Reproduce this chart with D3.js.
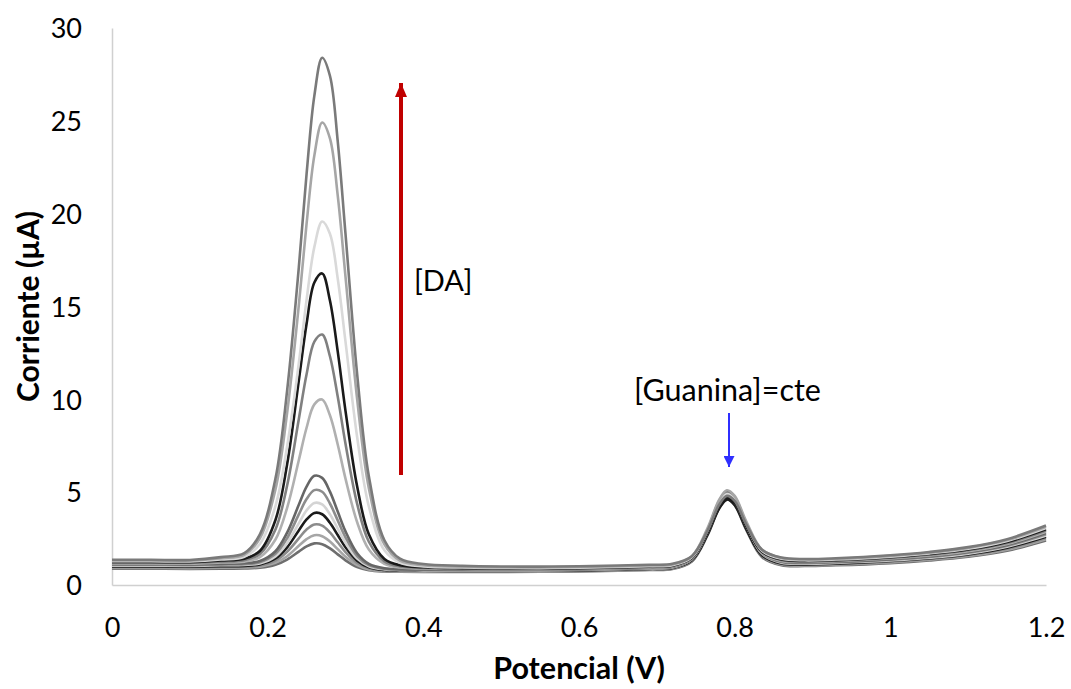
<!DOCTYPE html>
<html>
<head>
<meta charset="utf-8">
<script src="https://cdn.jsdelivr.net/npm/d3@7/dist/d3.min.js"></script>
<style>
  html, body { margin: 0; padding: 0; background: #ffffff; }
  svg { display: block; }
  text { font-family: Lato, "Open Sans", sans-serif; fill: #000; }
</style>
</head>
<body>
<svg id="chart" width="1071" height="689"></svg>
<script>
// ---------------- data ----------------
const potential = [0, 0.05, 0.10, 0.14, 0.17, 0.19, 0.21, 0.225, 0.24, 0.25, 0.26, 0.27, 0.28, 0.29, 0.30, 0.315, 0.33, 0.35, 0.37, 0.40,
                   0.45, 0.50, 0.55, 0.60, 0.65, 0.69, 0.72, 0.745, 0.765, 0.78, 0.79, 0.80, 0.815, 0.835, 0.86, 0.89, 0.93, 1.00, 1.05, 1.10, 1.15, 1.20];

const current1  = [0.88,0.88,0.87,0.88,0.89,0.93,1.09,1.37,1.80,2.08,2.24,2.20,1.97,1.65,1.33,0.97,0.80,0.73,0.71,0.70, 0.70,0.70,0.71,0.73,0.77,0.81,0.86,1.27,2.67,4.12,4.60,4.30,2.96,1.51,1.06,1.02,1.06,1.18,1.32,1.52,1.85,2.40];
const current2  = [0.92,0.92,0.91,0.93,0.94,0.99,1.19,1.55,2.11,2.47,2.68,2.63,2.34,1.93,1.52,1.07,0.84,0.75,0.73,0.72, 0.72,0.72,0.73,0.75,0.79,0.83,0.89,1.32,2.81,4.34,4.85,4.53,3.12,1.58,1.10,1.05,1.09,1.22,1.36,1.56,1.90,2.47];
const current3  = [0.96,0.96,0.95,0.97,0.98,1.05,1.31,1.79,2.51,2.99,3.26,3.20,2.83,2.30,1.77,1.19,0.90,0.78,0.76,0.75, 0.74,0.74,0.75,0.77,0.81,0.85,0.90,1.32,2.74,4.21,4.70,4.40,3.05,1.59,1.13,1.08,1.12,1.25,1.40,1.61,1.95,2.53];
const current4  = [1.00,1.00,0.99,1.01,1.03,1.11,1.43,2.03,2.94,3.53,3.88,3.81,3.35,2.69,2.03,1.31,0.96,0.81,0.78,0.77, 0.76,0.76,0.77,0.79,0.83,0.87,0.92,1.33,2.71,4.12,4.60,4.31,3.01,1.60,1.16,1.11,1.15,1.29,1.44,1.65,2.01,2.60];
const current5  = [1.04,1.04,1.03,1.06,1.08,1.16,1.54,2.25,3.32,4.02,4.42,4.34,3.81,3.04,2.27,1.42,1.01,0.84,0.80,0.79, 0.78,0.78,0.79,0.81,0.85,0.89,0.95,1.39,2.91,4.48,5.00,4.68,3.25,1.69,1.20,1.15,1.19,1.32,1.47,1.69,2.06,2.67];
const current6  = [1.08,1.08,1.07,1.10,1.12,1.23,1.68,2.52,3.80,4.63,5.11,5.02,4.39,3.48,2.57,1.56,1.07,0.87,0.83,0.82, 0.80,0.80,0.81,0.83,0.87,0.91,0.96,1.40,2.87,4.39,4.90,4.59,3.21,1.70,1.24,1.18,1.22,1.36,1.51,1.74,2.11,2.73];
const current7  = [1.12,1.12,1.11,1.15,1.17,1.29,1.82,2.82,4.32,5.30,5.88,5.77,5.03,3.96,2.89,1.71,1.14,0.90,0.85,0.84, 0.82,0.82,0.83,0.85,0.89,0.93,0.99,1.43,2.96,4.52,5.05,4.73,3.31,1.75,1.27,1.21,1.25,1.39,1.55,1.78,2.16,2.80];
const current8  = [1.16,1.16,1.15,1.21,1.26,1.50,2.45,4.16,6.72,8.47,9.73,9.99,9.14,7.57,5.73,3.38,1.91,1.14,0.94,0.89, 0.86,0.85,0.85,0.87,0.91,0.95,1.00,1.42,2.82,4.26,4.75,4.46,3.16,1.74,1.30,1.24,1.28,1.43,1.59,1.82,2.21,2.87];
const current9  = [1.20,1.20,1.19,1.26,1.34,1.67,2.99,5.36,8.93,11.35,13.11,13.49,12.32,10.15,7.61,4.37,2.33,1.27,1.00,0.92, 0.88,0.87,0.87,0.89,0.93,0.97,1.02,1.46,2.93,4.44,4.95,4.65,3.29,1.80,1.34,1.27,1.31,1.46,1.63,1.87,2.26,2.93];
const current10 = [1.24,1.24,1.23,1.32,1.42,1.83,3.50,6.50,11.01,14.07,16.29,16.78,15.32,12.58,9.38,5.30,2.73,1.40,1.06,0.96, 0.91,0.89,0.89,0.91,0.95,0.99,1.04,1.45,2.82,4.22,4.70,4.43,3.17,1.79,1.37,1.30,1.34,1.50,1.67,1.91,2.32,3.00];
const current11 = [1.28,1.28,1.27,1.37,1.52,2.21,4.25,7.46,11.94,15.36,18.21,19.58,18.92,16.51,13.11,7.96,4.23,1.87,1.20,1.00, 0.94,0.92,0.91,0.93,0.97,1.01,1.06,1.49,2.93,4.40,4.90,4.61,3.29,1.85,1.41,1.33,1.37,1.53,1.70,1.95,2.37,3.07];
const current12 = [1.32,1.32,1.31,1.44,1.63,2.51,5.14,9.27,15.06,19.46,23.14,24.91,24.06,20.98,16.61,10.00,5.21,2.19,1.32,1.07, 0.99,0.96,0.95,0.97,1.01,1.05,1.10,1.55,3.05,4.58,5.10,4.80,3.42,1.91,1.45,1.37,1.41,1.57,1.74,2.00,2.42,3.13];
const current13 = [1.36,1.36,1.35,1.50,1.72,2.73,5.73,10.47,17.10,22.14,26.36,28.40,27.43,23.91,18.91,11.35,5.86,2.41,1.42,1.13, 1.04,1.00,0.99,1.01,1.05,1.09,1.14,1.55,2.92,4.32,4.80,4.53,3.27,1.90,1.48,1.40,1.44,1.60,1.78,2.04,2.47,3.20];

const currents = [current1, current2, current3, current4, current5, current6, current7,
                  current8, current9, current10, current11, current12, current13];

const lineColors = ["#6e6e6e", "#a6a6a6", "#8c8c8c", "#1a1a1a", "#d4d4d4", "#8c8c8c", "#666666",
                    "#b0b0b0", "#808080", "#1a1a1a", "#d9d9d9", "#a6a6a6", "#7a7a7a"];

const xTicks = [0, 0.2, 0.4, 0.6, 0.8, 1, 1.2];
const yTicks = [0, 5, 10, 15, 20, 25, 30];

// ---------------- layout ----------------
const svg = d3.select("#chart");
const plotLeft = 112, plotRight = 1046, plotTop = 28, plotBottom = 585;

const x = d3.scaleLinear().domain([0, 1.2]).range([plotLeft, plotRight]);
const y = d3.scaleLinear().domain([0, 30]).range([plotBottom, plotTop]);

// axes (lines only, no tick marks)
const xAxis = d3.axisBottom(x).tickValues(xTicks).tickSize(0).tickPadding(0).tickFormat(d3.format("~g"));
const yAxis = d3.axisLeft(y).tickValues(yTicks).tickSize(0).tickPadding(0);

const gx = svg.append("g").attr("transform", `translate(0,${plotBottom})`).call(xAxis);
gx.select(".domain").attr("stroke", "#d0d0d0").attr("stroke-width", 1.5);
gx.selectAll(".tick text")
  .attr("font-family", "Lato, sans-serif").attr("font-size", 27).attr("fill", "#000")
  .attr("dy", null).attr("y", 52);

const gy = svg.append("g").attr("transform", `translate(${plotLeft},0)`).call(yAxis);
gy.select(".domain").attr("stroke", "#d0d0d0").attr("stroke-width", 1.5);
gy.selectAll(".tick text")
  .attr("font-family", "Lato, sans-serif").attr("font-size", 27).attr("fill", "#000")
  .attr("x", -30).attr("dy", "0.36em");

// curves
const line = d3.line()
  .x((d, i) => x(potential[i]))
  .y(d => y(d))
  .curve(d3.curveCatmullRom.alpha(0.5));

svg.append("g").selectAll("path")
  .data(currents)
  .join("path")
  .attr("d", d => line(d))
  .attr("fill", "none")
  .attr("stroke", (d, i) => lineColors[i])
  .attr("stroke-width", 2.6)
  .attr("stroke-linejoin", "round");

// axis titles
svg.append("text")
  .attr("x", (plotLeft + plotRight) / 2).attr("y", 668).attr("dy", "0.35em")
  .attr("text-anchor", "middle")
  .attr("font-size", 30.5).attr("font-weight", "bold")
  .text("Potencial (V)");

svg.append("text")
  .attr("transform", `translate(28,${(plotTop + plotBottom) / 2}) rotate(-90)`)
  .attr("dy", "0.35em")
  .attr("text-anchor", "middle")
  .attr("font-size", 30).attr("font-weight", "bold")
  .text("Corriente (µA)");

// annotations
const defs = svg.append("defs");
defs.append("marker").attr("id", "headRed")
  .attr("viewBox", "0 0 12 14").attr("refX", 6).attr("refY", 0)
  .attr("markerWidth", 12).attr("markerHeight", 14).attr("markerUnits", "userSpaceOnUse")
  .attr("orient", "0")
  .append("path").attr("d", "M0,14 L6,0 L12,14 Z").attr("fill", "#c00000");

defs.append("marker").attr("id", "headBlue")
  .attr("viewBox", "0 0 11 11").attr("refX", 5.5).attr("refY", 11)
  .attr("markerWidth", 11).attr("markerHeight", 11).attr("markerUnits", "userSpaceOnUse")
  .attr("orient", "0")
  .append("path").attr("d", "M0,0 L11,0 L5.5,11 Z").attr("fill", "#2f2fff");

svg.append("line")
  .attr("x1", 401).attr("y1", 475).attr("x2", 401).attr("y2", 83)
  .attr("stroke", "#c00000").attr("stroke-width", 4)
  .attr("marker-end", "url(#headRed)");

svg.append("line")
  .attr("x1", 729).attr("y1", 413).attr("x2", 729).attr("y2", 467)
  .attr("stroke", "#2f2fff").attr("stroke-width", 2)
  .attr("marker-end", "url(#headBlue)");

svg.append("text")
  .attr("x", 414).attr("y", 281).attr("dy", "0.35em")
  .attr("font-size", 29)
  .text("[DA]");

svg.append("text")
  .attr("x", 634).attr("y", 390).attr("dy", "0.35em")
  .attr("font-size", 30.5)
  .text("[Guanina]=cte");
</script>
</body>
</html>
